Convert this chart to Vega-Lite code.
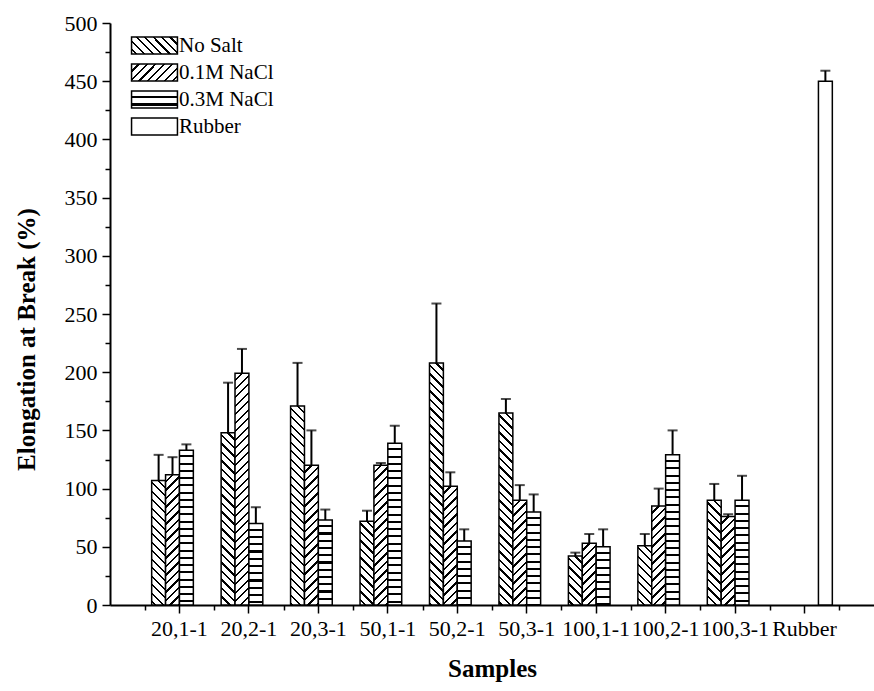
{
  "$schema": "https://vega.github.io/schema/vega-lite/v6.json",
  "width": 764,
  "height": 582,
  "autosize": {"type": "none"},
  "padding": {"left": 110, "top": 23, "right": 0, "bottom": 86},
  "background": "white",
  "config": {"font": "Times New Roman, Liberation Serif, Times, serif", "view": {"stroke": null}},
  "params": [
    {
      "name": "hatch",
      "value": [
        {"offset": 0, "color": "#fff"}, {"offset": 0.018, "color": "#fff"}, {"offset": 0.018, "color": "#000"}, {"offset": 0.025, "color": "#000"},
        {"offset": 0.025, "color": "#fff"}, {"offset": 0.043, "color": "#fff"}, {"offset": 0.043, "color": "#000"}, {"offset": 0.05, "color": "#000"},
        {"offset": 0.05, "color": "#fff"}, {"offset": 0.068, "color": "#fff"}, {"offset": 0.068, "color": "#000"}, {"offset": 0.075, "color": "#000"},
        {"offset": 0.075, "color": "#fff"}, {"offset": 0.093, "color": "#fff"}, {"offset": 0.093, "color": "#000"}, {"offset": 0.1, "color": "#000"},
        {"offset": 0.1, "color": "#fff"}, {"offset": 0.118, "color": "#fff"}, {"offset": 0.118, "color": "#000"}, {"offset": 0.125, "color": "#000"},
        {"offset": 0.125, "color": "#fff"}, {"offset": 0.143, "color": "#fff"}, {"offset": 0.143, "color": "#000"}, {"offset": 0.15, "color": "#000"},
        {"offset": 0.15, "color": "#fff"}, {"offset": 0.168, "color": "#fff"}, {"offset": 0.168, "color": "#000"}, {"offset": 0.175, "color": "#000"},
        {"offset": 0.175, "color": "#fff"}, {"offset": 0.193, "color": "#fff"}, {"offset": 0.193, "color": "#000"}, {"offset": 0.2, "color": "#000"},
        {"offset": 0.2, "color": "#fff"}, {"offset": 0.218, "color": "#fff"}, {"offset": 0.218, "color": "#000"}, {"offset": 0.225, "color": "#000"},
        {"offset": 0.225, "color": "#fff"}, {"offset": 0.243, "color": "#fff"}, {"offset": 0.243, "color": "#000"}, {"offset": 0.25, "color": "#000"},
        {"offset": 0.25, "color": "#fff"}, {"offset": 0.268, "color": "#fff"}, {"offset": 0.268, "color": "#000"}, {"offset": 0.275, "color": "#000"},
        {"offset": 0.275, "color": "#fff"}, {"offset": 0.293, "color": "#fff"}, {"offset": 0.293, "color": "#000"}, {"offset": 0.3, "color": "#000"},
        {"offset": 0.3, "color": "#fff"}, {"offset": 0.318, "color": "#fff"}, {"offset": 0.318, "color": "#000"}, {"offset": 0.325, "color": "#000"},
        {"offset": 0.325, "color": "#fff"}, {"offset": 0.343, "color": "#fff"}, {"offset": 0.343, "color": "#000"}, {"offset": 0.35, "color": "#000"},
        {"offset": 0.35, "color": "#fff"}, {"offset": 0.368, "color": "#fff"}, {"offset": 0.368, "color": "#000"}, {"offset": 0.375, "color": "#000"},
        {"offset": 0.375, "color": "#fff"}, {"offset": 0.393, "color": "#fff"}, {"offset": 0.393, "color": "#000"}, {"offset": 0.4, "color": "#000"},
        {"offset": 0.4, "color": "#fff"}, {"offset": 0.418, "color": "#fff"}, {"offset": 0.418, "color": "#000"}, {"offset": 0.425, "color": "#000"},
        {"offset": 0.425, "color": "#fff"}, {"offset": 0.443, "color": "#fff"}, {"offset": 0.443, "color": "#000"}, {"offset": 0.45, "color": "#000"},
        {"offset": 0.45, "color": "#fff"}, {"offset": 0.468, "color": "#fff"}, {"offset": 0.468, "color": "#000"}, {"offset": 0.475, "color": "#000"},
        {"offset": 0.475, "color": "#fff"}, {"offset": 0.493, "color": "#fff"}, {"offset": 0.493, "color": "#000"}, {"offset": 0.5, "color": "#000"},
        {"offset": 0.5, "color": "#fff"}, {"offset": 0.518, "color": "#fff"}, {"offset": 0.518, "color": "#000"}, {"offset": 0.525, "color": "#000"},
        {"offset": 0.525, "color": "#fff"}, {"offset": 0.543, "color": "#fff"}, {"offset": 0.543, "color": "#000"}, {"offset": 0.55, "color": "#000"},
        {"offset": 0.55, "color": "#fff"}, {"offset": 0.568, "color": "#fff"}, {"offset": 0.568, "color": "#000"}, {"offset": 0.575, "color": "#000"},
        {"offset": 0.575, "color": "#fff"}, {"offset": 0.593, "color": "#fff"}, {"offset": 0.593, "color": "#000"}, {"offset": 0.6, "color": "#000"},
        {"offset": 0.6, "color": "#fff"}, {"offset": 0.618, "color": "#fff"}, {"offset": 0.618, "color": "#000"}, {"offset": 0.625, "color": "#000"},
        {"offset": 0.625, "color": "#fff"}, {"offset": 0.643, "color": "#fff"}, {"offset": 0.643, "color": "#000"}, {"offset": 0.65, "color": "#000"},
        {"offset": 0.65, "color": "#fff"}, {"offset": 0.668, "color": "#fff"}, {"offset": 0.668, "color": "#000"}, {"offset": 0.675, "color": "#000"},
        {"offset": 0.675, "color": "#fff"}, {"offset": 0.693, "color": "#fff"}, {"offset": 0.693, "color": "#000"}, {"offset": 0.7, "color": "#000"},
        {"offset": 0.7, "color": "#fff"}, {"offset": 0.718, "color": "#fff"}, {"offset": 0.718, "color": "#000"}, {"offset": 0.725, "color": "#000"},
        {"offset": 0.725, "color": "#fff"}, {"offset": 0.743, "color": "#fff"}, {"offset": 0.743, "color": "#000"}, {"offset": 0.75, "color": "#000"},
        {"offset": 0.75, "color": "#fff"}, {"offset": 0.768, "color": "#fff"}, {"offset": 0.768, "color": "#000"}, {"offset": 0.775, "color": "#000"},
        {"offset": 0.775, "color": "#fff"}, {"offset": 0.793, "color": "#fff"}, {"offset": 0.793, "color": "#000"}, {"offset": 0.8, "color": "#000"},
        {"offset": 0.8, "color": "#fff"}, {"offset": 0.818, "color": "#fff"}, {"offset": 0.818, "color": "#000"}, {"offset": 0.825, "color": "#000"},
        {"offset": 0.825, "color": "#fff"}, {"offset": 0.843, "color": "#fff"}, {"offset": 0.843, "color": "#000"}, {"offset": 0.85, "color": "#000"},
        {"offset": 0.85, "color": "#fff"}, {"offset": 0.868, "color": "#fff"}, {"offset": 0.868, "color": "#000"}, {"offset": 0.875, "color": "#000"},
        {"offset": 0.875, "color": "#fff"}, {"offset": 0.893, "color": "#fff"}, {"offset": 0.893, "color": "#000"}, {"offset": 0.9, "color": "#000"},
        {"offset": 0.9, "color": "#fff"}, {"offset": 0.918, "color": "#fff"}, {"offset": 0.918, "color": "#000"}, {"offset": 0.925, "color": "#000"},
        {"offset": 0.925, "color": "#fff"}, {"offset": 0.943, "color": "#fff"}, {"offset": 0.943, "color": "#000"}, {"offset": 0.95, "color": "#000"},
        {"offset": 0.95, "color": "#fff"}, {"offset": 0.968, "color": "#fff"}, {"offset": 0.968, "color": "#000"}, {"offset": 0.975, "color": "#000"},
        {"offset": 0.975, "color": "#fff"}, {"offset": 0.993, "color": "#fff"}, {"offset": 0.993, "color": "#000"}, {"offset": 1, "color": "#000"}
      ]
    }
  ],
  "data": {
    "values": [
      {"sample": "20,1-1", "series": "No Salt", "value": 107, "upper": 129},
      {"sample": "20,1-1", "series": "0.1M NaCl", "value": 112, "upper": 127},
      {"sample": "20,1-1", "series": "0.3M NaCl", "value": 133, "upper": 138},
      {"sample": "20,2-1", "series": "No Salt", "value": 148, "upper": 191},
      {"sample": "20,2-1", "series": "0.1M NaCl", "value": 199, "upper": 220},
      {"sample": "20,2-1", "series": "0.3M NaCl", "value": 70, "upper": 84},
      {"sample": "20,3-1", "series": "No Salt", "value": 171, "upper": 208},
      {"sample": "20,3-1", "series": "0.1M NaCl", "value": 120, "upper": 150},
      {"sample": "20,3-1", "series": "0.3M NaCl", "value": 73, "upper": 82},
      {"sample": "50,1-1", "series": "No Salt", "value": 72, "upper": 81},
      {"sample": "50,1-1", "series": "0.1M NaCl", "value": 120, "upper": 122},
      {"sample": "50,1-1", "series": "0.3M NaCl", "value": 139, "upper": 154},
      {"sample": "50,2-1", "series": "No Salt", "value": 208, "upper": 259},
      {"sample": "50,2-1", "series": "0.1M NaCl", "value": 102, "upper": 114},
      {"sample": "50,2-1", "series": "0.3M NaCl", "value": 55, "upper": 65},
      {"sample": "50,3-1", "series": "No Salt", "value": 165, "upper": 177},
      {"sample": "50,3-1", "series": "0.1M NaCl", "value": 90, "upper": 103},
      {"sample": "50,3-1", "series": "0.3M NaCl", "value": 80, "upper": 95},
      {"sample": "100,1-1", "series": "No Salt", "value": 42, "upper": 45},
      {"sample": "100,1-1", "series": "0.1M NaCl", "value": 53, "upper": 61},
      {"sample": "100,1-1", "series": "0.3M NaCl", "value": 50, "upper": 65},
      {"sample": "100,2-1", "series": "No Salt", "value": 51, "upper": 61},
      {"sample": "100,2-1", "series": "0.1M NaCl", "value": 85, "upper": 100},
      {"sample": "100,2-1", "series": "0.3M NaCl", "value": 129, "upper": 150},
      {"sample": "100,3-1", "series": "No Salt", "value": 90, "upper": 104},
      {"sample": "100,3-1", "series": "0.1M NaCl", "value": 76, "upper": 78},
      {"sample": "100,3-1", "series": "0.3M NaCl", "value": 90, "upper": 111},
      {"sample": "Rubber", "series": "Rubber", "value": 450, "upper": 459}
    ]
  },
  "layer": [
    {
      "mark": {"type": "bar", "stroke": "#000", "strokeWidth": 1.5},
      "encoding": {
        "x": {
          "field": "sample",
          "type": "nominal",
          "sort": null,
          "scale": {
            "domain": ["20,1-1", "20,2-1", "20,3-1", "50,1-1", "50,2-1", "50,3-1", "100,1-1", "100,2-1", "100,3-1", "Rubber"],
            "paddingInner": 0,
            "paddingOuter": 0.5
          },
          "axis": {
            "orient": "bottom",
            "title": "Samples",
            "titleFontSize": 25,
            "titleFontWeight": "bold",
            "titleColor": "#000",
            "titlePadding": 17,
            "labelFontSize": 22,
            "labelColor": "#000",
            "labelAngle": 0,
            "labelPadding": 5,
            "labelOverlap": false,
            "labelBound": false,
            "tickSize": 8,
            "tickWidth": 1.5,
            "tickColor": "#000",
            "domainColor": "#000",
            "domainWidth": 2,
            "grid": false
          }
        },
        "xOffset": {
          "field": "series",
          "type": "nominal",
          "scale": {"domain": ["No Salt", "0.1M NaCl", "0.3M NaCl", "Rubber"], "paddingInner": 0, "paddingOuter": 0.5}
        },
        "y": {
          "field": "value",
          "type": "quantitative",
          "scale": {"domain": [0, 500], "nice": false},
          "axis": {
            "orient": "left",
            "title": "Elongation at Break (%)",
            "titleFontSize": 25,
            "titleFontWeight": "bold",
            "titleColor": "#000",
            "titlePadding": 25,
            "titleY": 316,
            "values": [0, 50, 100, 150, 200, 250, 300, 350, 400, 450, 500],
            "labelFontSize": 22,
            "labelColor": "#000",
            "labelPadding": 5,
            "tickSize": 8,
            "tickWidth": 1.5,
            "tickColor": "#000",
            "domainColor": "#000",
            "domainWidth": 2,
            "grid": false
          }
        },
        "fill": {
          "field": "series",
          "type": "nominal",
          "scale": {
            "domain": ["No Salt", "0.1M NaCl", "0.3M NaCl", "Rubber"],
            "range": [
              {"expr": "{gradient: 'linear', x1: 1, y1: 0, x2: -5.503, y2: 2.403, stops: hatch}"},
              {"expr": "{gradient: 'linear', x1: 0, y1: 0, x2: 6.503, y2: 2.403, stops: hatch}"},
              {"expr": "{gradient: 'linear', x1: 0, y1: 0, x2: 0, y2: 17.06, stops: hatch}"},
              "#fff"
            ]
          },
          "condition": {
            "test": "isValid(datum.value)",
            "value": {
              "expr": "datum.series === 'No Salt' ? {gradient: 'linear', x1: 1, y1: 0, x2: 1 - bandwidth('xOffset') * 340 / (pow(bandwidth('xOffset'), 2) + pow(scale('y', 0) - scale('y', datum.value), 2)), y2: (scale('y', 0) - scale('y', datum.value)) * 340 / (pow(bandwidth('xOffset'), 2) + pow(scale('y', 0) - scale('y', datum.value), 2)), stops: hatch} : datum.series === '0.1M NaCl' ? {gradient: 'linear', x1: 0, y1: 0, x2: bandwidth('xOffset') * 340 / (pow(bandwidth('xOffset'), 2) + pow(scale('y', 0) - scale('y', datum.value), 2)), y2: (scale('y', 0) - scale('y', datum.value)) * 340 / (pow(bandwidth('xOffset'), 2) + pow(scale('y', 0) - scale('y', datum.value), 2)), stops: hatch} : datum.series === '0.3M NaCl' ? {gradient: 'linear', x1: 0, y1: 0, x2: 0, y2: 290 / (scale('y', 0) - scale('y', datum.value)), stops: hatch} : '#fff'"
            }
          },
          "legend": {
            "orient": "none",
            "legendX": 34,
            "legendY": 12,
            "title": null,
            "padding": 0,
            "symbolType": "M-2.7,-1H2.7V1H-2.7Z",
            "symbolSize": 289,
            "symbolStrokeColor": "#000",
            "symbolStrokeWidth": 1.5,
            "symbolOpacity": 1,
            "labelFontSize": 21,
            "labelColor": "#000",
            "labelOffset": 14,
            "rowPadding": 4
          }
        }
      }
    },
    {
      "mark": {"type": "rule", "color": "#000", "strokeWidth": 2},
      "encoding": {
        "x": {
          "field": "sample",
          "type": "nominal",
          "sort": null,
          "axis": {
            "orient": "bottom",
            "tickBand": "extent",
            "labels": false,
            "domain": false,
            "title": null,
            "tickSize": 5,
            "tickWidth": 1.5,
            "tickColor": "#000",
            "grid": false
          }
        },
        "xOffset": {"field": "series", "type": "nominal"},
        "y": {
          "field": "value",
          "type": "quantitative",
          "axis": {
            "orient": "left",
            "values": [25, 75, 125, 175, 225, 275, 325, 375, 425, 475],
            "labels": false,
            "domain": false,
            "title": null,
            "tickSize": 5,
            "tickWidth": 1.5,
            "tickColor": "#000",
            "grid": false
          }
        },
        "y2": {"field": "upper"}
      }
    },
    {
      "mark": {"type": "tick", "color": "#000", "thickness": 2, "size": 10},
      "encoding": {
        "x": {"field": "sample", "type": "nominal", "sort": null, "axis": null},
        "xOffset": {"field": "series", "type": "nominal"},
        "y": {"field": "upper", "type": "quantitative", "axis": null}
      }
    }
  ],
  "resolve": {"axis": {"x": "independent", "y": "independent"}}
}
